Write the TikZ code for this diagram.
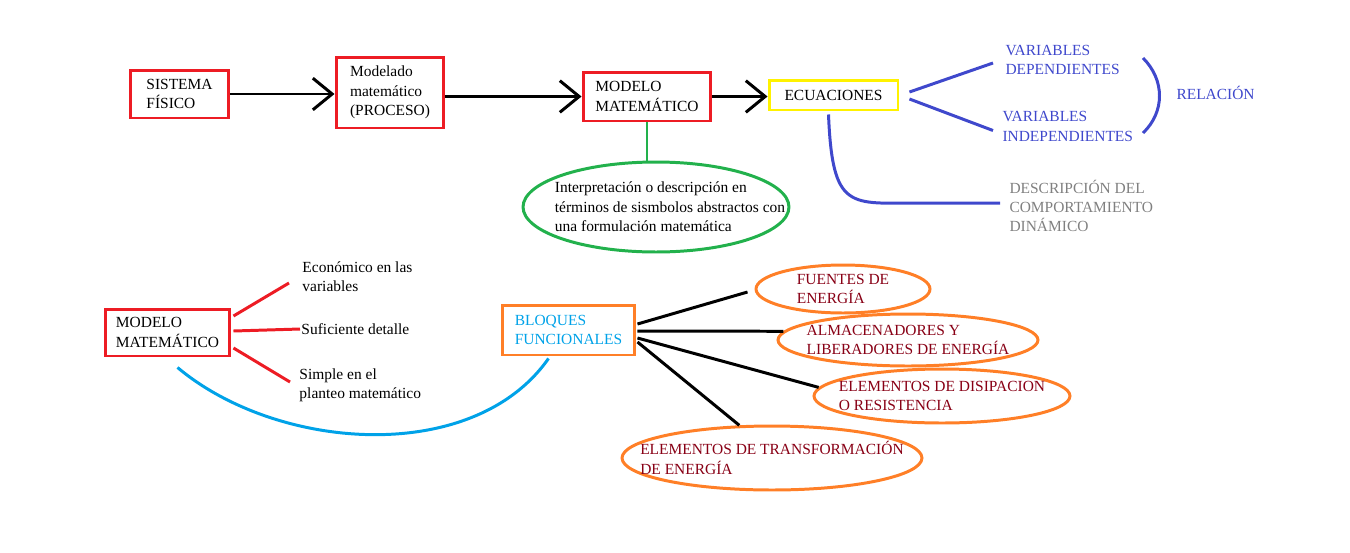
\documentclass[tikz,border=0pt]{standalone}
\usepackage{fontspec}
\setmainfont{Liberation Serif}
\usetikzlibrary{arrows.meta,shapes.geometric}
\definecolor{paint red}{RGB}{237,28,36}
\definecolor{paint yellow}{RGB}{255,242,0}
\definecolor{paint green}{RGB}{34,177,76}
\definecolor{paint indigo}{RGB}{63,72,204}
\definecolor{paint cyan}{RGB}{0,162,232}
\definecolor{paint orange}{RGB}{255,127,39}
\definecolor{paint wine}{RGB}{136,0,21}
\colorlet{paint gray}{black!50}
\tikzset{redbox/.style={draw=paint red, line width=1.7pt, align=left, inner sep=0pt},
    yellowbox/.style={draw=paint yellow, line width=1.7pt, inner sep=0pt},
    orangebox/.style={draw=paint orange, line width=1.7pt, align=left, inner sep=0pt, text=paint cyan},
    oval/.style={ellipse, draw=paint orange, line width=1.7pt, inner sep=0pt},
    ovaltext/.style={align=left, text=paint wine},
    plain/.style={anchor=west, align=left, inner sep=0pt},
    arrow/.style={-{Straight Barb[length=11pt,width=18pt]}}}

\begin{document}
\begin{tikzpicture}[x=0.02cm, y=-0.02cm, line width=1.7pt,
    every node/.style={font=\fontsize{8.8}{11}\selectfont}]
    \useasboundingbox (0,0) rectangle (1350,552);
    \node[redbox, minimum width=1.98cm, minimum height=0.96cm] (sistema) at (179.5,94) {SISTEMA\\FÍSICO};
    \node[redbox, minimum width=2.16cm, minimum height=1.42cm] (proceso) at (390,92.5) {Modelado\\matemático\\(PROCESO)};
    \node[redbox, minimum width=2.56cm, minimum height=0.98cm] (modelo) at (647,96.5) {MODELO\\MATEMÁTICO};
    \node[yellowbox, minimum width=2.58cm, minimum height=0.6cm] (ecuaciones) at (833.5,95) {ECUACIONES};
    \node[ellipse, draw=paint green, inner sep=0pt, minimum width=5.32cm, minimum height=1.8cm,
          label={[align=left, xshift=0.28cm]center:{Interpretación o descripción en\\términos de sismbolos abstractos con\\una formulación matemática}}]
          (interp) at (656,207) {};
    \node[plain, text=paint indigo] (vardep) at (1004,60) {VARIABLES\\DEPENDIENTES};
    \node[plain, text=paint indigo] (varind) at (1001,126.5) {VARIABLES\\INDEPENDIENTES};
    \node[plain, text=paint indigo] (relacion) at (1175,93) {RELACIÓN};
    \node[plain, text=paint gray] (descr) at (1008,206) {DESCRIPCIÓN DEL\\COMPORTAMIENTO\\DINÁMICO};

    \draw[arrow] (sistema.east) -- (sistema.east -| proceso.west);
    \draw[arrow] (proceso.east |- modelo.west) -- (modelo.west);
    \draw[arrow] (modelo.east) -- (modelo.east -| ecuaciones.west);
    \draw[paint green] (modelo.south) -- (modelo.south |- interp.north);
    \draw[paint indigo] ([shift={(10,-3)}]ecuaciones.east) -- ([shift={(-11,3)}]vardep.west);
    \draw[paint indigo] ([shift={(10,4)}]ecuaciones.east) -- ([shift={(-8,4)}]varind.west);
    \draw[paint indigo] (1143,58) .. controls (1165,80) and (1165,112) .. (1143,133);
    \draw[paint indigo] ([shift={(-5,3)}]ecuaciones.south) .. controls +(4,97) and +(-70,0)
                        .. ([shift={(-88,-3)}]descr.west) -- ([shift={(-8,-3)}]descr.west);

    \node[redbox, minimum width=2.5cm, minimum height=0.94cm] (modmat) at (167.5,332.5) {MODELO\\MATEMÁTICO};
    \node[plain] (econ) at (301,276.5) {Económico en las\\variables};
    \node[plain] (suf) at (300,329) {Suficiente detalle};
    \node[plain] (simple) at (298,385.5) {Simple en el\\planteo matemático};
    \node[orangebox, minimum width=2.66cm, minimum height=1.0cm] (bloques) at (568.5,330) {BLOQUES\\FUNCIONALES};
    \node[oval, minimum width=3.48cm, minimum height=0.96cm,
          label={[ovaltext]center:{FUENTES DE\\ENERGÍA}}] (fuentes) at (843,289) {};
    \node[oval, minimum width=5.2cm, minimum height=1.04cm,
          label={[ovaltext]center:{ALMACENADORES Y\\LIBERADORES DE ENERGÍA}}] (almacen) at (908,340) {};
    \node[oval, minimum width=5.12cm, minimum height=1.08cm,
          label={[ovaltext]center:{ELEMENTOS DE DISIPACION\\O RESISTENCIA}}] (disip) at (942,396) {};
    \node[oval, minimum width=6cm, minimum height=1.28cm,
          label={[ovaltext]center:{ELEMENTOS DE TRANSFORMACIÓN\\DE ENERGÍA}}] (transf) at (772,458) {};

    \draw[paint red] ([shift={(2,-16.5)}]modmat.east) -- ([shift={(-12,6.5)}]econ.west);
    \draw[paint red] ([shift={(2,-1.5)}]modmat.east) -- (suf.west);
    \draw[paint red] ([shift={(2,15.5)}]modmat.east) -- ([shift={(-8,-3.5)}]simple.west);
    \draw[paint cyan] ([shift={(10,10)}]modmat.south) to[out=-40, in=-125, looseness=0.9]
                      ([shift={(-20,2)}]bloques.south);
    \draw ([shift={(1,-6)}]bloques.east) -- ([shift={(-7,3)}]fuentes.west);
    \draw ([shift={(1,1)}]bloques.east) -- (almacen.176);
    \draw ([shift={(1,8)}]bloques.east) -- (disip.176);
    \draw ([shift={(1,12)}]bloques.east) -- (transf.135);
\end{tikzpicture}
\end{document}
